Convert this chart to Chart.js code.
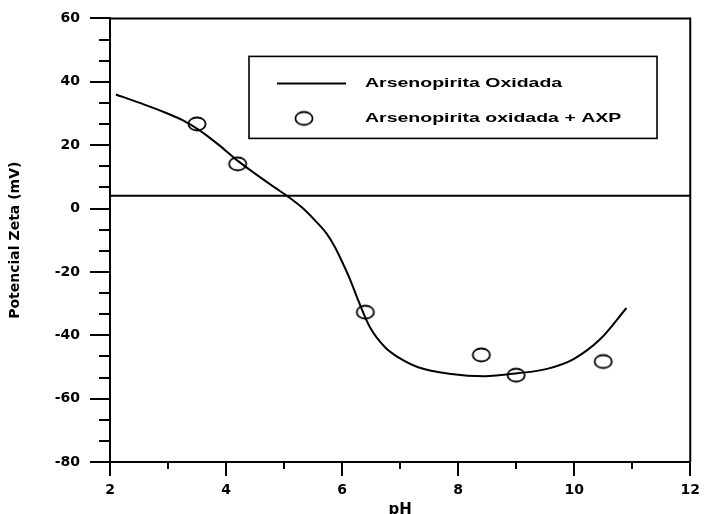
<!DOCTYPE html>
<html>
<head>
<meta charset="utf-8">
<script src="https://cdn.jsdelivr.net/npm/chart.js@4.4.1/dist/chart.umd.min.js"></script>
<style>
  html, body { margin: 0; padding: 0; background: #fff; overflow: hidden; }
  #contenedor { width: 706px; height: 514px; overflow: hidden; }
</style>
</head>
<body>
<div id="contenedor"><canvas id="grafica" width="706" height="530"></canvas></div>
<script>
// ===================== DATOS =====================
// Curva: arsenopirita oxidada
const phCurva   = [2.10, 2.50, 2.95, 3.25, 3.55, 3.88, 4.17, 4.50, 4.85, 5.05, 5.31, 5.54, 5.74, 5.88, 6.00, 6.14, 6.28, 6.48, 6.74, 6.97, 7.31, 7.88, 8.45, 9.02, 9.53, 9.99, 10.45, 10.90];
const zetaCurva = [36.0, 33.4, 30.3, 27.9, 24.6, 20.0, 15.5, 11.0, 6.5, 4.0, 0.3, -3.9, -8.1, -12.3, -16.8, -22.5, -29.1, -37.5, -43.8, -47.0, -50.1, -52.2, -52.9, -52.0, -50.6, -47.5, -41.2, -31.4];

// Puntos: arsenopirita oxidada + AXP
const phMuestras   = [3.5, 4.2, 6.4, 8.4, 9.0, 10.5];
const zetaMuestras = [26.7, 14.1, -32.7, -46.2, -52.6, -48.3];

// Línea horizontal de referencia
const nivelReferencia = 4;

const etiquetasSeries = ['Arsenopirita Oxidada', 'Arsenopirita oxidada + AXP'];
const tituloX = 'pH';
const tituloY = 'Potencial Zeta (mV)';

const marcasX = [2, 4, 6, 8, 10, 12];
const marcasY = [-80, -60, -40, -20, 0, 20, 40, 60];
const marcasMenoresX = [3, 5, 7, 9, 11];

// ===================== AUXILIARES =====================
function crearElipse(){
  const c = document.createElement('canvas');
  c.width = 22; c.height = 18;
  const g = c.getContext('2d');
  g.strokeStyle = '#000';
  g.lineWidth = 1.8;
  g.beginPath();
  g.ellipse(11, 9, 8.6, 6.5, 0, 0, Math.PI * 2);
  g.stroke();
  return c;
}
const elipse = crearElipse();

// marcas menores del eje Y: dos entre cada par de marcas principales
const marcasMenoresY = [];
for(let i = 0; i < marcasY.length - 1; i++){
  const paso = (marcasY[i+1] - marcasY[i]) / 3;
  marcasMenoresY.push(marcasY[i] + paso, marcasY[i] + 2*paso);
}

const fuenteEje = { family: 'DejaVu Sans', weight: 'bold', size: 14 };

// marco superior/derecho y marcas menores
const marco = {
  id: 'marco',
  afterDraw(chart){
    const { ctx, chartArea: a, scales } = chart;
    ctx.save();
    ctx.strokeStyle = '#000';
    ctx.lineWidth = 2;
    ctx.beginPath();
    ctx.moveTo(a.left, a.top);
    ctx.lineTo(a.right, a.top);
    ctx.lineTo(a.right, a.bottom);
    ctx.stroke();

    ctx.beginPath();
    marcasMenoresX.forEach(v => {
      const px = Math.round(scales.x.getPixelForValue(v));
      ctx.moveTo(px, a.bottom);
      ctx.lineTo(px, a.bottom + 7);
    });
    marcasMenoresY.forEach(v => {
      const py = Math.round(scales.y.getPixelForValue(v));
      ctx.moveTo(a.left, py);
      ctx.lineTo(a.left - 11, py);
    });
    ctx.stroke();
    ctx.restore();
  }
};

// leyenda dentro del área de la gráfica
const leyenda = {
  id: 'leyendaCaja',
  afterDraw(chart){
    const { ctx, chartArea: a } = chart;
    const x0 = a.left + 139, y0 = a.top + 38, w = 408, h = 82;
    ctx.save();
    ctx.strokeStyle = '#000';
    ctx.lineWidth = 1.6;
    ctx.strokeRect(x0, y0, w, h);

    // muestra de línea
    ctx.lineWidth = 2;
    ctx.beginPath();
    ctx.moveTo(x0 + 28, y0 + 27);
    ctx.lineTo(x0 + 97, y0 + 27);
    ctx.stroke();
    // muestra de punto
    ctx.drawImage(elipse, x0 + 55 - elipse.width/2, y0 + 62 - elipse.height/2);

    ctx.fillStyle = '#000';
    ctx.font = 'bold 13px "Liberation Sans", Arial, sans-serif';
    ctx.textBaseline = 'middle';
    ctx.textAlign = 'left';
    [[etiquetasSeries[0], y0 + 27], [etiquetasSeries[1], y0 + 62]].forEach(([t, y]) => {
      ctx.save();
      ctx.translate(x0 + 116, y);
      ctx.scale(1.5, 1);
      ctx.fillText(t, 0, 0);
      ctx.restore();
    });
    ctx.restore();
  }
};

// ===================== GRÁFICA =====================
new Chart(document.getElementById('grafica'), {
  type: 'scatter',
  data: {
    datasets: [
      {
        label: 'referencia',
        data: [{ x: marcasX[0], y: nivelReferencia }, { x: marcasX[marcasX.length-1], y: nivelReferencia }],
        showLine: true,
        borderColor: '#000',
        borderWidth: 2,
        pointRadius: 0
      },
      {
        label: etiquetasSeries[0],
        data: phCurva.map((v, i) => ({ x: v, y: zetaCurva[i] })),
        showLine: true,
        borderColor: '#000',
        borderWidth: 2,
        pointRadius: 0,
        cubicInterpolationMode: 'monotone'
      },
      {
        label: etiquetasSeries[1],
        data: phMuestras.map((v, i) => ({ x: v, y: zetaMuestras[i] })),
        showLine: false,
        pointStyle: elipse,
        pointRadius: 9
      }
    ]
  },
  options: {
    responsive: false,
    animation: false,
    events: [],
    layout: { padding: { top: 17, right: 12, left: 0, bottom: 0 } },
    plugins: {
      legend: { display: false },
      tooltip: { enabled: false }
    },
    scales: {
      x: {
        type: 'linear',
        min: marcasX[0],
        max: marcasX[marcasX.length-1],
        afterBuildTicks: s => { s.ticks = marcasX.map(v => ({ value: v })); },
        afterFit: s => { s.height = 68; },
        border: { display: true, color: '#000', width: 2 },
        grid: { drawOnChartArea: false, drawTicks: true, tickLength: 14, color: '#000', lineWidth: 2 },
        ticks: { color: '#000', font: fuenteEje, padding: 6, maxRotation: 0 },
        title: {
          display: true, text: tituloX, color: '#000',
          font: { family: 'DejaVu Sans', weight: 'bold', size: 15 },
          padding: { top: 0, bottom: 11 }
        }
      },
      y: {
        type: 'linear',
        min: marcasY[0],
        max: marcasY[marcasY.length-1],
        afterBuildTicks: s => { s.ticks = marcasY.map(v => ({ value: v })); },
        afterFit: s => { s.width = 110; },
        border: { display: true, color: '#000', width: 2 },
        grid: { drawOnChartArea: false, drawTicks: true, tickLength: 20, color: '#000', lineWidth: 2 },
        ticks: { color: '#000', font: fuenteEje, padding: 10 },
        title: {
          display: true, text: tituloY, color: '#000',
          font: { family: 'DejaVu Sans', weight: 'bold', size: 14 },
          padding: { top: 6.6, bottom: 0 }
        }
      }
    }
  },
  plugins: [marco, leyenda]
});
</script>
</body>
</html>
